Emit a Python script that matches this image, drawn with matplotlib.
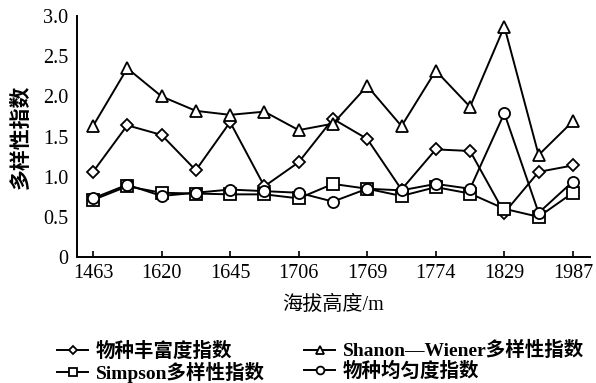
import matplotlib
matplotlib.use("Agg")
import matplotlib.pyplot as plt

plt.rcParams['font.family'] = ['Liberation Serif', 'Noto Sans CJK SC', 'DejaVu Sans']

# Sampling plots ordered by altitude; every other plot carries a tick label
tick_labels = ["1463", "1620", "1645", "1706", "1769", "1774", "1829", "1987"]
n_points = 15

richness = [1.06, 1.64, 1.52, 1.08, 1.68, 0.88, 1.18, 1.72, 1.47, 0.84, 1.34, 1.32, 0.55, 1.06, 1.14]
shannon = [1.63, 2.35, 2.00, 1.82, 1.77, 1.81, 1.58, 1.66, 2.13, 1.63, 2.32, 1.87, 2.87, 1.27, 1.69]
simpson = [0.71, 0.88, 0.80, 0.79, 0.78, 0.78, 0.73, 0.91, 0.85, 0.76, 0.87, 0.79, 0.60, 0.50, 0.80]
evenness = [0.73, 0.90, 0.76, 0.80, 0.84, 0.82, 0.80, 0.69, 0.85, 0.83, 0.91, 0.85, 1.79, 0.55, 0.94]

series_names = ["物种丰富度指数", "Shanon—Wiener多样性指数", "Simpson多样性指数", "物种均匀度指数"]

fig = plt.figure(figsize=(5.96, 3.83), dpi=100)
ax = fig.add_axes([0.129, 0.329, 0.861, 0.629])

x = list(range(n_points))
style = dict(color="black", lw=1.4, markerfacecolor="white", markeredgecolor="black",
             markeredgewidth=1.3, markersize=8)
h_rich, = ax.plot(x, richness, marker="D", **{**style, "markersize": 6.5}, label=series_names[0])
h_shan, = ax.plot(x, shannon, marker="^", **{**style, "markersize": 9}, label=series_names[1])
h_simp, = ax.plot(x, simpson, marker="s", **style, label=series_names[2])
h_even, = ax.plot(x, evenness, marker="o", **style, label=series_names[3])

ax.set_xlim(-0.47, 14.5)
ax.set_ylim(0, 3.0)
ax.set_xticks(range(0, n_points, 2))
ax.set_xticklabels(tick_labels)
ax.set_yticks([0, 0.5, 1.0, 1.5, 2.0, 2.5, 3.0])
ax.set_yticklabels(["0", "0.5", "1.0", "1.5", "2.0", "2.5", "3.0"])
ax.tick_params(axis="both", direction="in", length=4, width=1.2, labelsize=14.5, pad=5)
ax.tick_params(axis="y", length=0, pad=6)

for side in ("top", "right"):
    ax.spines[side].set_visible(False)
for side in ("left", "bottom"):
    ax.spines[side].set_linewidth(1.4)

ax.set_ylabel("多样性指数", fontsize=15, fontweight="bold", labelpad=8)
ax.set_xlabel("海拔高度/m", fontsize=14.5, labelpad=9)

fig.legend([h_rich, h_simp, h_shan, h_even],
           [series_names[0], series_names[2], series_names[1], series_names[3]],
           ncol=2, loc="center", bbox_to_anchor=(0.538, 0.055), frameon=False,
           prop={"size": 14, "weight": "bold"}, handlelength=1.6, handletextpad=0.4,
           columnspacing=2.0, labelspacing=0.05, borderpad=0.1, markerscale=0.7)

fig.savefig("out.png", dpi=100)
